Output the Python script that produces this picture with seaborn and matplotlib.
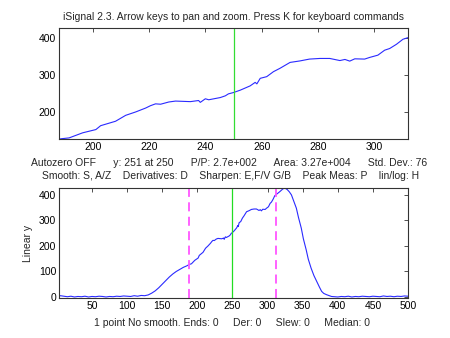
import numpy as np
import pandas as pd
import matplotlib
matplotlib.use("Agg")
import matplotlib.pyplot as plt
import seaborn as sns

# ---- data ----
x_vals = [1, 5, 10, 15, 20, 25, 30, 35, 40, 45, 50, 55, 60, 65, 70, 75, 80, 85, 90, 95,
          100, 105, 110, 115, 120, 125, 130, 135, 140, 145, 150, 155, 160, 165, 170, 175,
          180, 185, 188.7, 191.6, 196.4, 201.1, 202.8, 208.1, 211.7, 215.2, 218.8, 220.5,
          222.3, 224.1, 227, 229.4, 234.7, 237.6, 238.2, 240, 241.2, 245.3, 247.1, 248.2,
          250, 252.4, 255.9, 257.7, 258.3, 259.5, 261.8, 264.2, 266.5, 268.9, 270.1,
          273.6, 277, 280.7, 284.2, 287.8, 289.6, 291.3, 293.1, 296.6, 298.4, 301.3,
          303.7, 305.5, 307.9, 310.2, 312, 314, 318, 322, 325, 328, 331, 334, 337, 341,
          344, 348, 351, 355, 358, 362, 366, 370, 374, 377, 380, 384, 388, 391, 395, 400,
          405, 410, 415, 420, 425, 430, 435, 440, 445, 450, 455, 460, 465, 470, 475, 480,
          485, 490, 495, 500]
y_vals = [2, 5, 3, 1, 3, 0, 2, 1, 3, 0, 2, 1, 3, 2, 0, 2, 1, 3, 2, 4,
          3, 2, 5, 3, 6, 5, 8, 15, 24, 36, 50, 64, 78, 90, 100, 108,
          116, 122, 127.6, 130, 143.7, 152.5, 163, 175, 191, 200, 210.7, 217,
          222, 221, 227, 229.5, 228, 231, 226, 235.7, 233, 239, 243.7, 249,
          252.6, 259, 270.5, 280, 276, 291, 295.5, 309, 318, 328.7, 334,
          338, 343, 344.7, 344.7, 339, 342, 337.5, 343.7, 343, 347.5, 353.6,
          367, 371.6, 383, 396.5, 401, 405, 414, 424, 426, 421, 412, 400, 378, 348,
          312, 270, 228, 185, 148, 113, 84, 61, 38, 22, 14, 9, 5, 2, 1, 0,
          2, 1, 3, 0, 2, 1, 3, 2, 1, 3, 2, 1, 4, 2, 3, 1,
          3, 2, 4, 3]

top_xticks = [200, 220, 240, 260, 280, 300]
top_yticks = [200, 300, 400]
bot_xticks = [50, 100, 150, 200, 250, 300, 350, 400, 450, 500]
bot_yticks = [0, 100, 200, 300, 400]
center_x = 250
range_lines = [188, 312]

title = "iSignal 2.3. Arrow keys to pan and zoom. Press K for keyboard commands"
info1 = "Autozero OFF      y: 251 at 250      P/P: 2.7e+002      Area: 3.27e+004      Std. Dev.: 76"
info2 = "Smooth: S, A/Z    Derivatives: D    Sharpen: E,F/V G/B    Peak Meas: P    lin/log: H"
info3 = "1 point No smooth. Ends: 0     Der: 0     Slew: 0     Median: 0"

df = pd.DataFrame({"x": x_vals, "y": y_vals})

sns.set_theme(style="white")
plt.rcParams["font.family"] = ["Liberation Sans", "DejaVu Sans"]
plt.rcParams["font.size"] = 7.5

fig = plt.figure(figsize=(4.5, 3.38), dpi=100)
ax1 = fig.add_axes([59/450, 1-139/338, 349/450, 111/338])
ax2 = fig.add_axes([59/450, 1-298/338, 349/450, 110/338])

line_c = "#2a2aff"
for ax in (ax1, ax2):
    sns.lineplot(data=df, x="x", y="y", ax=ax, color=line_c, linewidth=0.8,
                 estimator=None, sort=False)
    ax.set_xlabel("")
    ax.set_ylabel("")
    for s in ax.spines.values():
        s.set_color("#333333")
        s.set_linewidth(0.8)
    ax.tick_params(direction="in", length=3, width=0.6, color="#333333",
                   top=True, right=True, labelsize=7.5, pad=2, labelcolor="black")
    ax.grid(False)

ax1.axvline(center_x, color="#33dd33", linewidth=0.9)
ax1.set_xlim(188, 312)
ax1.set_ylim(127, 427)
ax1.set_xticks(top_xticks)
ax1.set_yticks(top_yticks)

for xv in range_lines:
    ax2.axvline(xv, color="#ff55ff", linewidth=1.3, linestyle=(0, (5, 3)))
ax2.axvline(center_x, color="#22dd22", linewidth=0.9)
ax2.set_xlim(3, 500)
ax2.set_ylim(-4, 427)
ax2.set_xticks(bot_xticks)
ax2.set_yticks(bot_yticks)
ax2.set_ylabel("Linear y", fontsize=7.5, labelpad=4)

fig.text(233.5/450, 1-17/338, title, ha="center", va="center", fontsize=7.5)
fig.text(229.5/450, 1-163/338, info1, ha="center", va="center", fontsize=7.5)
fig.text(231/450, 1-176/338, info2, ha="center", va="center", fontsize=7.5)
fig.text(232/450, 1-323/338, info3, ha="center", va="center", fontsize=7.5)

fig.savefig("out.png", dpi=100, facecolor="white")
